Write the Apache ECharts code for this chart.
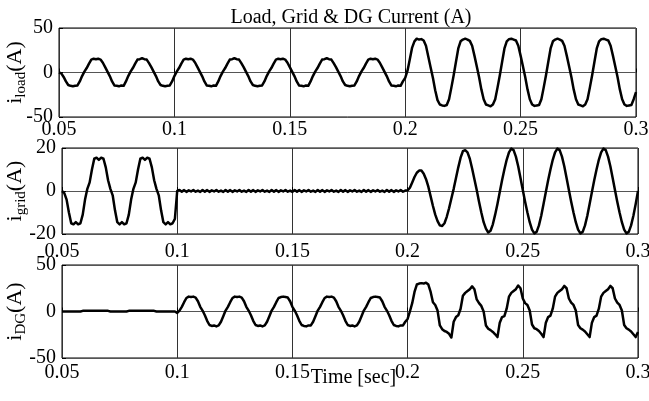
<!DOCTYPE html>
<html><head><meta charset="utf-8">
<script src="https://cdn.jsdelivr.net/npm/echarts@6.0.0/dist/echarts.min.js"></script>
<style>html,body{margin:0;padding:0;background:#fff}#c{width:649px;height:401px}</style>
</head><body><div id="c"></div>
<script>
// sampling of the traces: one value per millisecond from 0.05 s to 0.3 s
const tStart = 0.05;
const tStep = 0.001;
const xTickLabels = ['0.05', '0.1', '0.15', '0.2', '0.25', '0.3'];
const titleText = 'Load, Grid & DG Current (A)';
const xName = 'Time [sec]';

// i_load (A)
const iLoad = [
  0, -1, -5, -10, -14, -15, -15.5, -15, -14.5, -10, -4, 1, 5, 10, 14.5, 15.5, 15, 15.5, 14.5, 11,
  6, 1, -4, -10, -14.5, -15, -15.5, -14.5, -15, -10, -4, 1, 5, 10, 14.5, 15, 16, 15, 14.5, 10.5,
  6, 1, -4, -10, -14, -15, -15.5, -15, -14.5, -10, -4, 1, 5, 10, 14.5, 15.5, 15, 15.5, 14.5, 11,
  6, 1, -4, -10, -14.5, -15, -15.5, -14.5, -15, -10, -4, 1, 5, 10, 14.5, 15, 16, 15, 14.5, 10.5,
  6, 1, -4, -10, -14, -15, -15.5, -15, -14.5, -10, -4, 1, 5, 10, 14.5, 15.5, 15, 15.5, 14.5, 11,
  6, 1, -4, -10, -14.5, -15, -15.5, -14.5, -15, -10, -4, 1, 5, 10, 14.5, 15, 16, 15, 14.5, 10.5,
  6, 1, -4, -10, -14, -15, -15.5, -15, -14.5, -10, -4, 1, 5, 10, 14.5, 15.5, 15, 15.5, 14.5, 11,
  6, 1, -4, -10, -14.5, -15, -15.5, -14.5, -15, -10,
  -6, 2, 15, 28, 35, 38, 37, 37.5, 36, 30, 18, 6, -6, -20, -31, -36, -37, -37.5, -36.5, -30,
  -17, -3, 12, 27, 35, 37, 38, 37, 35.5, 30, 19, 7, -5, -19, -30, -36, -37, -38, -36, -30,
  -17, -3, 12, 27, 35, 37.5, 38, 37, 36, 30, 19, 7, -5, -19, -30, -36, -37.5, -37, -36.5, -30,
  -17, -3, 12, 27, 35, 37, 38, 37, 35.5, 30, 19, 7, -5, -19, -30, -36, -37, -38, -36, -30,
  -17, -3, 12, 27, 35, 37.5, 38, 37, 36, 30, 19, 7, -5, -19, -30, -36, -37.5, -37, -36.5, -30,
  -22
];

// i_grid (A)
const iGrid = [
  0, -1, -4, -10, -15, -15.5, -14.5, -15.5, -15, -11, -4, 1, 4, 10, 15, 15.5, 14.5, 15.5, 15, 11,
  5, 1, -2, -9, -14.5, -15.5, -14.5, -15.5, -15, -11, -4, 1, 4, 10, 15, 15.5, 14.5, 15.5, 15, 11,
  5, 1, -2, -9, -14.5, -15.5, -14.5, -15.5, -15, -13,
  0,
  0.5, -0.3, 0.4, -0.4, 0.3, -0.2, 0.5, -0.3, 0.2, -0.4,
  0.5, -0.3, 0.4, -0.4, 0.3, -0.2, 0.5, -0.3, 0.2, -0.4,
  0.5, -0.3, 0.4, -0.4, 0.3, -0.2, 0.5, -0.3, 0.2, -0.4,
  0.5, -0.3, 0.4, -0.4, 0.3, -0.2, 0.5, -0.3, 0.2, -0.4,
  0.5, -0.3, 0.4, -0.4, 0.3, -0.2, 0.5, -0.3, 0.2, -0.4,
  0.5, -0.3, 0.4, -0.4, 0.3, -0.2, 0.5, -0.3, 0.2, -0.4,
  0.5, -0.3, 0.4, -0.4, 0.3, -0.2, 0.5, -0.3, 0.2, -0.4,
  0.5, -0.3, 0.4, -0.4, 0.3, -0.2, 0.5, -0.3, 0.2, -0.4,
  0.5, -0.3, 0.4, -0.4, 0.3, -0.2, 0.5, -0.3, 0.2, -0.4,
  0.5, -0.3, 0.4, -0.4, 0.3, -0.2, 0.5, -0.3, 0.2,
  0.3, 1.5, 4, 6.5, 8.5, 9.5, 9.5, 8, 5.5, 2, -2.5, -7, -11, -14, -16, -16.3, -15, -12, -8, -3.5,
  1, 6, 11, 15.5, 18.5, 19, 18, 15, 10.5, 5.5, 0.5, -5, -10, -14.5, -17.5, -19.3, -18.5, -15.5, -11, -6,
  -0.5, 5, 10, 14.5, 18, 19.7, 19, 16, 11.5, 6, 0.5, -5, -10, -14.5, -18, -19.7, -19, -16, -11.5, -6,
  -0.5, 5, 10, 14.5, 18, 19.7, 19, 16, 11.5, 6, 0.5, -5, -10, -14.5, -18, -19.7, -19, -16, -11.5, -6,
  -0.5, 5, 10, 14.5, 18, 19.7, 19, 16, 11.5, 6, 0.5, -5, -10, -14.5, -18, -19.7, -19, -16, -11.5, -6,
  0
];

// i_DG (A)
const iDG = [
  0, 0, 0, 0, 0, 0, 0, 0, 0, 0.7, 0.7, 0.7, 0.7, 0.7, 0.7, 0.7, 0.7, 0.7, 0.7, 0.7,
  0.7, 0, 0, 0, 0, 0, 0, 0, 0, 0.7, 0.7, 0.7, 0.7, 0.7, 0.7, 0.7, 0.7, 0.7, 0.7, 0.7,
  0.7, 0, 0, 0, 0, 0, 0, 0, 0, 0,
  -1.5, 1, 5, 10, 14.5, 16, 15.5, 16, 15, 11, 5, 1, -4, -10, -14.5, -15.5, -15, -16, -15, -11,
  -5, 1, 5, 10, 14.5, 16, 15.5, 16, 15, 11, 5, 1, -4, -10, -14.5, -15.5, -15, -16, -15, -11,
  -5, 1, 5, 10, 14.5, 15.5, 16, 15.5, 15, 11, 5, 1, -4, -10, -14.5, -15.5, -16, -15, -15, -11,
  -5, 1, 5, 10, 14.5, 16, 15.5, 16, 15, 11, 5, 1, -4, -10, -14.5, -15.5, -15, -16, -15, -11,
  -5, 1, 5, 10, 14.5, 15.5, 16, 15.5, 15, 11, 5, 1, -4, -10, -14.5, -15.5, -16, -15, -15, -11,
  -8, 0, 9, 21, 29, 30, 30.5, 30, 31, 29, 21, 10, 7, 1, -15, -19, -21, -22, -24, -28,
  -11, -6, -4, 3, 17, 20, 22, 24, 27, 24, 13, 9, 6, 0, -15, -18.5, -20, -22, -24.5, -27.5,
  -12, -6, -5, 3, 16, 20, 22, 24, 28, 25, 14, 9, 7, 1, -14, -18, -19, -21, -24, -27.5,
  -12, -6, -4.5, 3, 16, 20, 22, 24, 27.5, 25, 14, 9.5, 7, 1, -14.5, -18, -19.5, -21.5, -24.5, -27.5,
  -12, -6, -4.5, 3, 16, 20, 22, 24, 27.5, 25, 14, 9.5, 7, 1, -14.5, -18, -19.5, -21.5, -24.5, -27.5,
  -22
];

const yRanges = [[-50, 50, 50], [-20, 20, 20], [-50, 50, 50]];
const yNames = ['load', 'grid', 'DG'];

const FONT = 'Liberation Serif';
const toPairs = arr => arr.map((v, i) => [+(tStart + i * tStep).toFixed(4), v]);
const series = [iLoad, iGrid, iDG];

const grids = [
  {left: 59, top: 28, width: 577, height: 89},
  {left: 62, top: 148, width: 576, height: 86},
  {left: 62, top: 265, width: 576, height: 93}
].map(g => Object.assign({show: true, borderColor: '#000', borderWidth: 1, backgroundColor: 'transparent',
  containLabel: false, outerBoundsMode: 'none'}, g));

const xLabelMargins = [3, 8, 5];
const xAxes = [0, 1, 2].map(i => ({
  type: 'value', gridIndex: i, min: 0.05, max: 0.3, interval: 0.05,
  axisLine: {show: false},
  axisTick: {show: true, inside: true, length: 4, lineStyle: {color: '#000'}},
  splitLine: {show: true, lineStyle: {color: '#333', width: 1}},
  axisLabel: {
    show: true, showMinLabel: true, showMaxLabel: true, margin: xLabelMargins[i],
    fontFamily: FONT, fontSize: 20, color: '#000', hideOverlap: false,
    formatter: v => { const idx = Math.round((v - 0.05) / 0.05); return xTickLabels[idx] !== undefined ? xTickLabels[idx] : ''; }
  },
  name: i === 2 ? xName : '',
  nameLocation: 'middle', nameGap: 10, nameMoveOverlap: false,
  nameTextStyle: {fontFamily: FONT, fontSize: 20, color: '#000', padding: [0, 0, 0, 7]}
}));

const yAxes = [0, 1, 2].map(i => ({
  type: 'value', gridIndex: i, min: yRanges[i][0], max: yRanges[i][1], interval: yRanges[i][2],
  axisLine: {show: false},
  axisTick: {show: true, inside: true, length: 4, lineStyle: {color: '#000'}},
  splitLine: {show: true, lineStyle: {color: '#555', width: 1}},
  axisLabel: {show: true, showMinLabel: true, showMaxLabel: true, margin: 6, fontFamily: FONT, fontSize: 20, color: '#000', hideOverlap: false},
  name: '{m|i}{s|' + yNames[i] + '}{m|(A)}',
  nameLocation: 'middle', nameRotate: 90, nameGap: i === 0 ? 30 : 33, nameMoveOverlap: false,
  nameTextStyle: {
    rich: {
      m: {fontFamily: FONT, fontSize: 22, color: '#000', lineHeight: 28, verticalAlign: 'middle'},
      s: {fontFamily: FONT, fontSize: 15, color: '#000', lineHeight: 28, verticalAlign: 'bottom'}
    }
  }
}));

const chart = echarts.init(document.getElementById('c'), null, {renderer: 'canvas'});
chart.setOption({
  animation: false,
  backgroundColor: '#fff',
  title: {
    text: titleText, left: 346, top: 3, textAlign: 'center',
    textStyle: {fontFamily: FONT, fontSize: 20, fontWeight: 'normal', color: '#000'}
  },
  grid: grids,
  xAxis: xAxes,
  yAxis: yAxes,
  series: series.map((arr, i) => ({
    type: 'line', xAxisIndex: i, yAxisIndex: i, data: toPairs(arr),
    showSymbol: false, symbol: 'none', clip: true,
    lineStyle: {color: '#000', width: 2.5, join: 'round'}
  }))
});
</script>
</body></html>
